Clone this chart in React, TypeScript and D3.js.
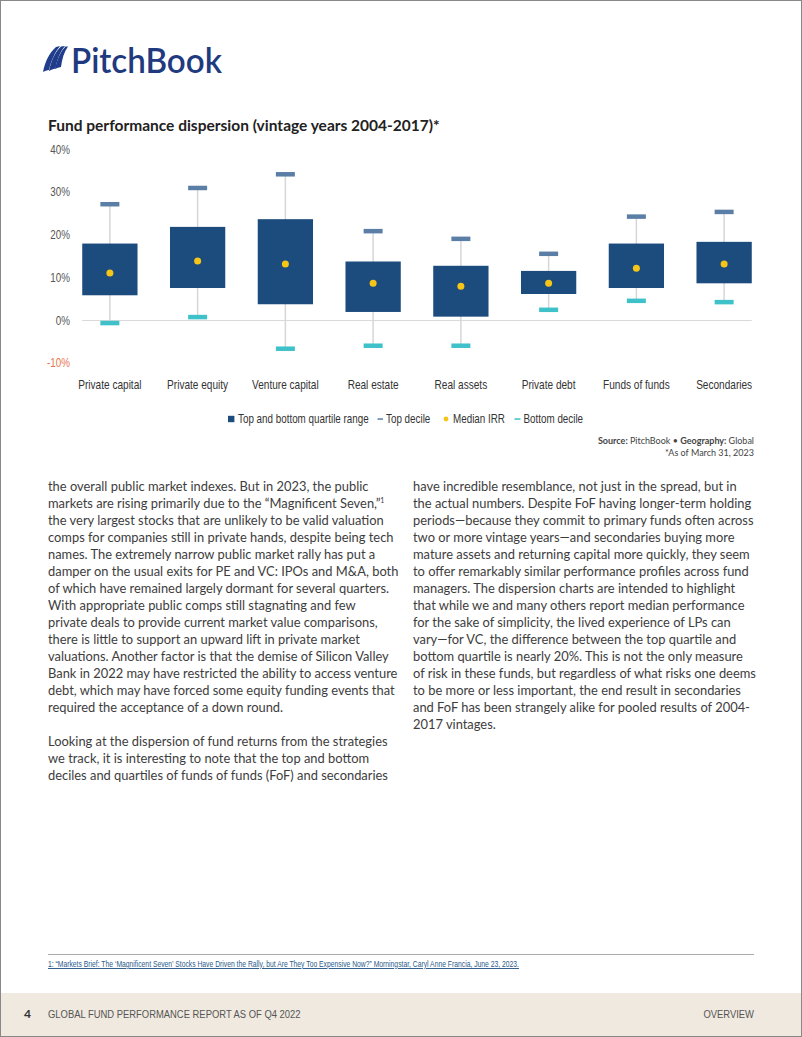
import React from "react";
import * as d3 from "d3";

const categories = ["Private capital", "Private equity", "Venture capital", "Real estate", "Real assets", "Private debt", "Funds of funds", "Secondaries"];
const topDecile = [27.2, 31.0, 34.2, 20.9, 19.1, 15.6, 24.3, 25.4];
const topQuartile = [18.0, 21.9, 23.7, 13.8, 12.8, 11.6, 18.0, 18.4];
const medianIRR = [11.1, 13.9, 13.2, 8.7, 8.0, 8.7, 12.2, 13.2];
const bottomQuartile = [5.9, 7.6, 3.8, 2.0, 0.9, 6.2, 7.6, 8.7];
const bottomDecile = [-0.6, 0.8, -6.6, -5.9, -5.9, 2.5, 4.6, 4.3];
const yTicks = [-10, 0, 10, 20, 30, 40];

const leftLines = [
  "the overall public market indexes. But in 2023, the public",
  "markets are rising primarily due to the “Magnificent Seven,”",
  "the very largest stocks that are unlikely to be valid valuation",
  "comps for companies still in private hands, despite being tech",
  "names. The extremely narrow public market rally has put a",
  "damper on the usual exits for PE and VC: IPOs and M&A, both",
  "of which have remained largely dormant for several quarters.",
  "With appropriate public comps still stagnating and few",
  "private deals to provide current market value comparisons,",
  "there is little to support an upward lift in private market",
  "valuations. Another factor is that the demise of Silicon Valley",
  "Bank in 2022 may have restricted the ability to access venture",
  "debt, which may have forced some equity funding events that",
  "required the acceptance of a down round.",
  "",
  "Looking at the dispersion of fund returns from the strategies",
  "we track, it is interesting to note that the top and bottom",
  "deciles and quartiles of funds of funds (FoF) and secondaries",
];
const rightLines = [
  "have incredible resemblance, not just in the spread, but in",
  "the actual numbers. Despite FoF having longer-term holding",
  "periods—because they commit to primary funds often across",
  "two or more vintage years—and secondaries buying more",
  "mature assets and returning capital more quickly, they seem",
  "to offer remarkably similar performance profiles across fund",
  "managers. The dispersion charts are intended to highlight",
  "that while we and many others report median performance",
  "for the sake of simplicity, the lived experience of LPs can",
  "vary—for VC, the difference between the top quartile and",
  "bottom quartile is nearly 20%. This is not the only measure",
  "of risk in these funds, but regardless of what risks one deems",
  "to be more or less important, the end result in secondaries",
  "and FoF has been strangely alike for pooled results of 2004-",
  "2017 vintages.",
];

const SANS = "'Liberation Sans', Arial, sans-serif";
const BODY = "Lato, 'Open Sans', sans-serif";

type NProps = { x: number; y: number; size: number; fill?: string; anchor?: "start" | "middle" | "end"; dy?: string; sx?: number; deco?: string; children: React.ReactNode };
function NText({ x, y, size, fill = "#333", anchor = "start", dy, sx = 0.82, deco, children }: NProps) {
  return (
    <text transform={`translate(${x},${y}) scale(${sx},1)`} textAnchor={anchor} dy={dy} fontFamily={SANS} fontSize={size} fill={fill} textDecoration={deco}>
      {children}
    </text>
  );
}

export default function App() {
  const W = 802, H = 1037;
  const x = d3.scaleBand<string>().domain(categories).range([66, 768]).paddingInner(0.37).paddingOuter(0.185);
  const y = d3.scaleLinear().domain([-10, 40]).range([363.25, 149.5]);
  const bw = x.bandwidth();
  const capW = 19, capH = 4.5;
  const navy = "#1c4b7d";
  const topC = "#5a7ea6";
  const botC = "#3fc1c9";
  const medC = "#f5c518";

  return (
    <svg width={W} height={H} style={{ position: "absolute", left: 0, top: 0, background: "#fff" }}>
      <rect x={0} y={0} width={W} height={H} fill="#fff" />
      {/* Logo */}
      <g fill="#1f3d8b">
        <path d="M43,72 C45,62 49,53 56,47 L60,46 C55,52 51,61 49,70 C47,70 45,71 43,72 Z" />
        <path d="M49,71 C51,61 55,52 61,46.5 L65,46 C60,52 57,60 55.5,68.5 C53,69 51,70 49,71 Z" />
        <path d="M55,69 C57,60 60,52 65.5,46.5 L68,46.5 C64,52 62,59 61,67 C59,67.5 57,68 55,69 Z" />
      </g>
      <text x={71} y={73} fontFamily={BODY} fontWeight={600} fontSize={34} fill="#1f3a7f" textLength={151} lengthAdjust="spacingAndGlyphs">PitchBook</text>

      {/* Title */}
      <text x={48} y={131} fontFamily={BODY} fontWeight={700} fontSize={15.5} fill="#222">Fund performance dispersion (vintage years 2004-2017)*</text>

      {/* Y axis labels */}
      {yTicks.map((t) => (
        <NText key={t} x={70} y={y(t)} dy="0.35em" anchor="end" size={12} fill={t < 0 ? "#e8734f" : "#555"}>{t}%</NText>
      ))}
      {/* zero line */}
      <line x1={x(categories[0])!} x2={x(categories[categories.length - 1])! + bw} y1={y(0)} y2={y(0)} stroke="#d9d9d9" strokeWidth={1} />

      {/* boxes */}
      {categories.map((c, i) => {
        const cx = x(c)! + bw / 2;
        return (
          <g key={c}>
            <line x1={cx} x2={cx} y1={y(topDecile[i])} y2={y(bottomDecile[i])} stroke="#d6d6d6" strokeWidth={1.5} />
            <rect x={x(c)!} y={y(topQuartile[i])} width={bw} height={y(bottomQuartile[i]) - y(topQuartile[i])} fill={navy} />
            <rect x={cx - capW / 2} y={y(topDecile[i]) - capH / 2} width={capW} height={capH} fill={topC} />
            <rect x={cx - capW / 2} y={y(bottomDecile[i]) - capH / 2} width={capW} height={capH} fill={botC} />
            <circle cx={cx} cy={y(medianIRR[i])} r={3.5} fill={medC} />
            <NText x={cx} y={389} anchor="middle" size={12.3} fill="#333">{c}</NText>
          </g>
        );
      })}

      {/* Legend */}
      <rect x={228} y={415.8} width={6.4} height={6.4} fill={navy} />
      <NText x={238} y={419} dy="0.35em" size={12}>Top and bottom quartile range</NText>
      <rect x={377.5} y={418.3} width={5.5} height={1.5} fill={topC} />
      <NText x={386} y={419} dy="0.35em" size={12}>Top decile</NText>
      <circle cx={446} cy={419} r={2.4} fill={medC} />
      <NText x={453} y={419} dy="0.35em" size={12}>Median IRR</NText>
      <rect x={514.5} y={418.3} width={6} height={1.5} fill={botC} />
      <NText x={523.5} y={419} dy="0.35em" size={12}>Bottom decile</NText>

      {/* Source */}
      <text x={754} y={444} textAnchor="end" fontFamily={BODY} fontSize={9} fill="#444">
        <tspan fontWeight={700}>Source: </tspan>PitchBook  •  <tspan fontWeight={700}>Geography: </tspan>Global
      </text>
      <text x={754} y={456} textAnchor="end" fontFamily={BODY} fontSize={9} fill="#444">*As of March 31, 2023</text>

      {/* Body text */}
      <g fontFamily={BODY} fontSize={12.9} fill="#3d3d3d">
        {leftLines.map((l, i) => (
          <text key={"l" + i} x={48} y={491 + i * 17}>
            {l}
            {i === 1 ? <tspan fontSize={7} dy={-5}>1</tspan> : null}
          </text>
        ))}
        {rightLines.map((l, i) => (
          <text key={"r" + i} x={413} y={491 + i * 17}>{l}</text>
        ))}
      </g>

      {/* Footnote */}
      <line x1={48} x2={754} y1={954.5} y2={954.5} stroke="#aaa" strokeWidth={1} />
      <text x={48} y={967} fontFamily={SANS} fontSize={9.5} fill="#2a5a8a" textDecoration="underline" textLength={471} lengthAdjust="spacingAndGlyphs">1: “Markets Brief: The ‘Magnificent Seven’ Stocks Have Driven the Rally, but Are They Too Expensive Now?” Morningstar, Caryl Anne Francia, June 23, 2023.</text>

      {/* Footer */}
      <rect x={0} y={993} width={W} height={H - 993} fill="#efe9df" />
      <text x={24} y={1018} fontFamily={BODY} fontWeight={700} fontSize={12} fill="#333">4</text>
      <NText x={48} y={1018} size={11.5} fill="#555">GLOBAL FUND PERFORMANCE REPORT AS OF Q4 2022</NText>
      <NText x={754} y={1018} anchor="end" size={11.5} fill="#555">OVERVIEW</NText>

      {/* page border */}
      <rect x={0.5} y={0.5} width={W - 1} height={H - 1} fill="none" stroke="#888" strokeWidth={1} />
    </svg>
  );
}
